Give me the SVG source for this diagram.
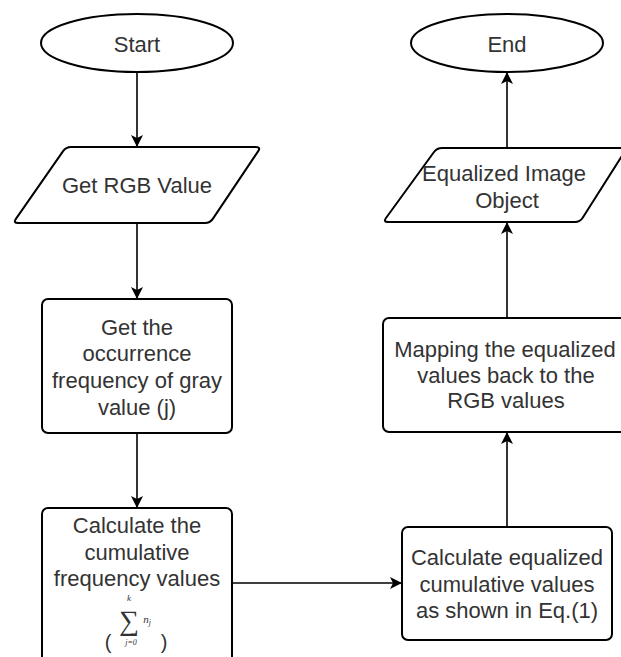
<svg xmlns="http://www.w3.org/2000/svg" width="621" height="657" viewBox="0 0 621 657">
<style>
.s{fill:#fff;stroke:#000;stroke-width:2}
.t{font-family:"Liberation Sans",Arial,sans-serif;font-size:22px;fill:#333;text-anchor:middle}
.c{fill:none;stroke:#000;stroke-width:1.6}
.m{font-family:"Liberation Serif","Times New Roman",serif;fill:#333;text-anchor:middle}
</style>
<defs>
<marker id="a" markerUnits="userSpaceOnUse" markerWidth="14" markerHeight="14" refX="12" refY="6" orient="auto">
<path d="M0,0 L12,6 L0,12 L3,6 Z" fill="#000"/>
</marker>
</defs>
<rect width="621" height="657" fill="#fff"/>
<g id="connectors">
<line class="c" x1="137" y1="72" x2="137" y2="147" marker-end="url(#a)"/>
<line class="c" x1="137" y1="223" x2="137" y2="299" marker-end="url(#a)"/>
<line class="c" x1="137" y1="433" x2="137" y2="508" marker-end="url(#a)"/>
<line class="c" x1="232" y1="583" x2="402" y2="583" marker-end="url(#a)"/>
<line class="c" x1="507" y1="527" x2="507" y2="432" marker-end="url(#a)"/>
<line class="c" x1="507" y1="318" x2="507" y2="222" marker-end="url(#a)"/>
<line class="c" x1="507" y1="148" x2="507" y2="72" marker-end="url(#a)"/>
</g>
<g id="start">
<ellipse class="s" cx="137" cy="43" rx="96" ry="29"/>
<text class="t" x="137" y="52">Start</text>
</g>
<g id="get-rgb">
<path class="s" d="M71,147 L256,147 Q261,147 258.2,151.1 L212.8,218.9 Q210,223 205,223 L18,223 Q13,223 15.9,218.9 L63.1,151.1 Q66,147 71,147 Z"/>
<text class="t" x="137" y="193">Get RGB Value</text>
</g>
<g id="occurrence">
<rect class="s" x="42" y="299" width="190" height="134" rx="6"/>
<text class="t" x="137" y="335">Get the</text>
<text class="t" x="137" y="361">occurrence</text>
<text class="t" x="137" y="388">frequency of gray</text>
<text class="t" x="137" y="415">value (j)</text>
</g>
<g id="cumulative">
<rect class="s" x="42" y="508" width="190" height="160" rx="6"/>
<text class="t" x="137" y="533">Calculate the</text>
<text class="t" x="137" y="560">cumulative</text>
<text class="t" x="137" y="586">frequency values</text>
<text class="t" x="108" y="649" style="font-size:20px">(</text>
<text class="t" x="164" y="649" style="font-size:20px">)</text>
<text class="m" x="129" y="601" style="font-size:9px;font-style:italic">k</text>
<text class="m" x="129" y="630" style="font-size:28px">∑</text>
<text class="m" x="131" y="645" style="font-size:8px;font-style:italic">j=0</text>
<text class="m" x="147" y="623" style="font-size:11px;font-style:italic">n<tspan style="font-size:8px" dy="2">j</tspan></text>
</g>
<g id="equalized-values">
<rect class="s" x="402" y="527" width="210" height="113" rx="6"/>
<text class="t" x="507" y="565">Calculate equalized</text>
<text class="t" x="507" y="592">cumulative values</text>
<text class="t" x="507" y="618">as shown in Eq.(1)</text>
</g>
<g id="mapping">
<rect class="s" x="383" y="318" width="250" height="114" rx="6"/>
<text class="t" x="505" y="357">Mapping the equalized</text>
<text class="t" x="506" y="383">values back to the</text>
<text class="t" x="506" y="408">RGB values</text>
</g>
<g id="equalized-image">
<path class="s" d="M442,148 L622,148 Q627,148 624.3,152.2 L582.7,217.8 Q580,222 575,222 L388,222 Q383,222 386,218 L434,152 Q437,148 442,148 Z"/>
<text class="t" x="504" y="181">Equalized Image</text>
<text class="t" x="507" y="208">Object</text>
</g>
<g id="end">
<ellipse class="s" cx="507" cy="43" rx="96" ry="29"/>
<text class="t" x="507" y="52">End</text>
</g>
</svg>
